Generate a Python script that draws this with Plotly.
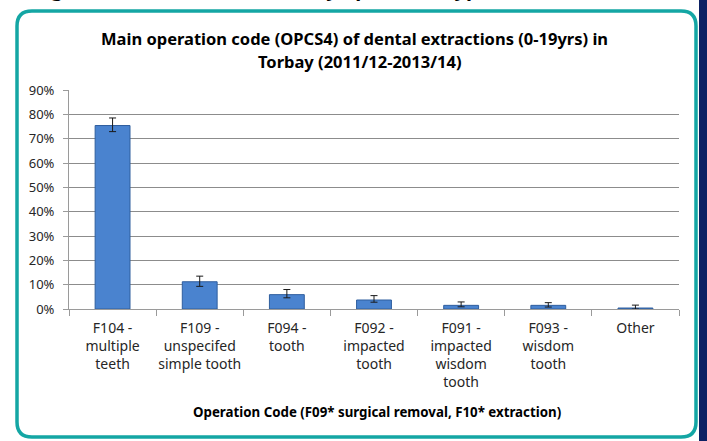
import plotly.graph_objects as go

categories = [
    "F104 -<br>multiple<br>teeth",
    "F109 -<br>unspecifed<br>simple tooth",
    "F094 -<br>tooth",
    "F092 -<br>impacted<br>tooth",
    "F091 -<br>impacted<br>wisdom<br>tooth",
    "F093 -<br>wisdom<br>tooth",
    "Other",
]
values = [0.754, 0.112, 0.059, 0.037, 0.015, 0.015, 0.004]
err_upper = [0.031, 0.023, 0.021, 0.018, 0.014, 0.011, 0.012]
err_lower = [0.025, 0.019, 0.013, 0.009, 0.006, 0.007, 0.004]
y_ticks = [0, 0.1, 0.2, 0.3, 0.4, 0.5, 0.6, 0.7, 0.8, 0.9]
y_tick_labels = ["0%", "10%", "20%", "30%", "40%", "50%", "60%", "70%", "80%", "90%"]

title_lines = [
    "Main operation code (OPCS4) of dental extractions (0-19yrs) in",
    "Torbay (2011/12-2013/14)",
]
x_title = "Operation Code (F09* surgical removal, F10* extraction)"
heading = "Figure 5: Dental extractions by operation type"

W, H = 707, 441
PLOT_L, PLOT_R, PLOT_T, PLOT_B = 69, 679, 90, 309  # page pixels
L, R, T, B = PLOT_L, W - PLOT_R, PLOT_T, H - PLOT_B
PW, PH = PLOT_R - PLOT_L, PLOT_B - PLOT_T


def px(xp):
    return (xp - PLOT_L) / PW


def py(yp):
    return (PLOT_B - yp) / PH


FONT = "Noto Sans"

fig = go.Figure()
fig.add_trace(
    go.Bar(
        x=categories,
        y=values,
        width=0.4,
        marker=dict(color="#4a83cf", line=dict(color="#2f5e9e", width=1)),
        error_y=dict(
            type="data",
            symmetric=False,
            array=err_upper,
            arrayminus=err_lower,
            color="#1a1a1a",
            thickness=1,
            width=3.5,
        ),
        hoverinfo="x+y",
    )
)

x0, x1, y0, y1, r = 17, 696, 11, 437, 15
pts = (
    f"M {px(x0 + r)},{py(y0)} L {px(x1 - r)},{py(y0)} "
    f"Q {px(x1)},{py(y0)} {px(x1)},{py(y0 + r)} "
    f"L {px(x1)},{py(y1 - r)} Q {px(x1)},{py(y1)} {px(x1 - r)},{py(y1)} "
    f"L {px(x0 + r)},{py(y1)} Q {px(x0)},{py(y1)} {px(x0)},{py(y1 - r)} "
    f"L {px(x0)},{py(y0 + r)} Q {px(x0)},{py(y0)} {px(x0 + r)},{py(y0)} Z"
)
shapes = [
    dict(type="path", xref="paper", yref="paper", path=pts,
         line=dict(color="#14a6a4", width=3.5), layer="above"),
    dict(type="rect", xref="paper", yref="paper", x0=px(699), x1=px(712),
         y0=py(-2), y1=py(443), fillcolor="#0c2163", line=dict(width=0), layer="above"),
]

annotations = [
    dict(text=f"<b>{title_lines[0]}</b>", xref="paper", yref="paper",
         x=px(354), y=py(38), xanchor="center", yanchor="middle", showarrow=False,
         font=dict(family=FONT, size=16.5, color="#000000")),
    dict(text=f"<b>{title_lines[1]}</b>", xref="paper", yref="paper",
         x=px(360), y=py(61), xanchor="center", yanchor="middle", showarrow=False,
         font=dict(family=FONT, size=16.5, color="#000000")),
    dict(text=f"<b>{x_title}</b>", xref="paper", yref="paper",
         x=px(377), y=py(412), xanchor="center", yanchor="middle", showarrow=False,
         font=dict(family=FONT, size=13.3, color="#000000")),
    dict(text=f"<b>{heading}</b>", xref="paper", yref="paper",
         x=px(32), y=py(4), xanchor="left", yanchor="bottom", showarrow=False,
         font=dict(family=FONT, size=20, color="#000000")),
]

fig.update_layout(
    width=W,
    height=H,
    margin=dict(l=L, r=R, t=T, b=B),
    paper_bgcolor="white",
    plot_bgcolor="white",
    showlegend=False,
    bargap=0.6,
    shapes=shapes,
    annotations=annotations,
    font=dict(family=FONT, size=13, color="#262626"),
)
fig.update_xaxes(
    showline=True, linecolor="#9a9a9a", linewidth=1, ticks="outside",
    tickson="boundaries", ticklen=6, tickcolor="#9a9a9a", showgrid=False,
    tickangle=0, ticklabelstandoff=6,
    tickfont=dict(family=FONT, size=14, color="#262626"),
)
fig.update_yaxes(
    range=[0, 0.9], tickvals=y_ticks, ticktext=y_tick_labels, showgrid=True,
    gridcolor="#8c8c8c", gridwidth=1, showline=True, linecolor="#9a9a9a",
    ticks="outside", ticklen=5, tickcolor="#9a9a9a", zeroline=False,
    ticklabelstandoff=6,
    tickfont=dict(family=FONT, size=13, color="#262626"),
)

fig.write_html(
    "out.html",
    config={"displayModeBar": False},
    post_script="document.body.style.margin='0';document.body.style.overflow='hidden';",
)
